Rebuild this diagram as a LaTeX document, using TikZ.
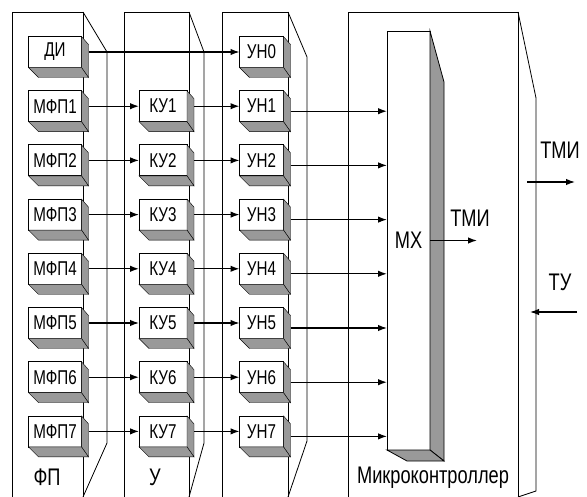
\documentclass[tikz,border=0pt]{standalone}
\usepackage{fontspec}
\setmainfont{Liberation Sans}[FakeStretch=0.76]
\usetikzlibrary{arrows.meta}

% side and bottom faces of a block
\newcommand\grani[1]{%
  \filldraw[fill=gray!80] (#1.north east) -- ++(7,8) -- ([shift={(7,10)}]#1.south east) -- (#1.south east) -- cycle;
  \filldraw[fill=gray!80] (#1.south west) -- ([shift={(10,10)}]#1.south west) -- ([shift={(7,10)}]#1.south east) -- (#1.south east) -- cycle;
}

\begin{document}
\begin{tikzpicture}[x=1pt, y=-1pt,
    blok/.style={draw, fill=white, line width=0.8pt, inner sep=0pt, outer sep=0pt,
                 minimum height=31, font=\fontsize{20}{20}\selectfont},
    podpis/.style={font=\fontsize{24}{24}\selectfont, inner sep=0pt},
    strelka/.style={line width=1.3pt, -{Latex[length=9pt,width=6.5pt]}}]
    \useasboundingbox (0,0) rectangle (587,497);

    % Panels (slabs)
    \foreach \a/\b/\c/\d/\e in {12/83/107/52/443, 124/189/204/52/443,
                               222/288/307/57/441, 348/518/536/98/491}{
        \draw[line width=0.8pt] (\a,497) -- (\a,12) -- (\b,12) -- (\b,497);
        \draw[line width=0.8pt] (\b,12) -- (\c,\d) -- (\c,\e) -- (\b,497);
    }
    \node[podpis] (fp) at (47,477) {ФП};
    \node[podpis] (u) at (155,477) {У};
    \node[podpis] (mk) at (433,478) {Микроконтроллер};

    % Multiplexer
    \node[draw, fill=white, line width=0.8pt, inner sep=0pt, outer sep=0pt,
          minimum width=43, minimum height=419, font=\fontsize{24}{24}\selectfont]
          (mx) at (408.5,240.5) {МХ};
    \filldraw[fill=gray!80, line width=0.8pt] (mx.north east) -- ++(14,51)
        -- ([shift={(14,11)}]mx.south east) -- (mx.south east) -- cycle;
    \filldraw[fill=gray!80, line width=0.8pt] (mx.south west) -- ++(20,11)
        -- ([shift={(14,11)}]mx.south east) -- (mx.south east) -- cycle;

    % Row 0: DI
    \node[blok, minimum width=53] (di) at (55,52) {ДИ};
    \grani{di}
    \node[blok, minimum width=44] (un0) at (261.5,52) {УН0};
    \grani{un0}
    \draw[strelka] ([xshift=7]di.east) -- (un0.west);

    % Rows 1..7
    \foreach \i in {1,...,7}{
        \node[blok, minimum width=53] (mfp\i) at (55,{52+54.2*\i}) {МФП\i};
        \grani{mfp\i}
        \node[blok, minimum width=48] (ku\i) at (163,{52+54.2*\i}) {КУ\i};
        \grani{ku\i}
        \node[blok, minimum width=44] (un\i) at (261.5,{52+54.2*\i}) {УН\i};
        \grani{un\i}
        \draw[strelka] ([xshift=7]mfp\i.east) -- (ku\i.west);
        \draw[strelka] ([xshift=7]ku\i.east) -- (un\i.west);
        \coordinate (vyh\i) at ([shift={(7,5)}]un\i.east);
        \draw[strelka] (vyh\i) -- (vyh\i -| mx.west);
    }

    % Output of MX
    \coordinate (tmi) at (477,240.5);
    \draw[strelka] (mx.east) -- (tmi);
    \node[podpis] (tmil) at (470,218) {ТМИ};

    % External links
    \coordinate (tmiA) at (527,182);
    \coordinate (tmiB) at (575,182);
    \draw[strelka] (tmiA) -- (tmiB);
    \node[podpis] (tmir) at (560,150) {ТМИ};
    \coordinate (tuA) at (577,312);
    \coordinate (tuB) at (530,312);
    \draw[strelka] (tuA) -- (tuB);
    \node[podpis] (tu) at (560,282) {ТУ};
\end{tikzpicture}
\end{document}
